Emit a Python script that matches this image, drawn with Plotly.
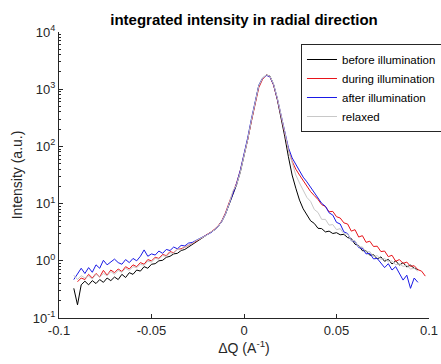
import plotly.graph_objects as go

# Delta Q sample positions (A^-1)
dq = [-0.092, -0.090, -0.088, -0.086, -0.084, -0.082, -0.080, -0.078, -0.076, -0.074,
      -0.072, -0.070, -0.068, -0.066, -0.064, -0.062, -0.060, -0.058, -0.056, -0.054,
      -0.052, -0.050, -0.048, -0.046, -0.044, -0.042, -0.040, -0.038, -0.036, -0.034,
      -0.032, -0.030, -0.028, -0.026, -0.024, -0.022, -0.020, -0.018, -0.016, -0.014,
      -0.012, -0.010, -0.008, -0.006, -0.004, -0.002, 0.000, 0.002, 0.004, 0.006,
      0.008, 0.010, 0.012, 0.014, 0.016, 0.018, 0.020, 0.022, 0.024, 0.026,
      0.028, 0.030, 0.032, 0.034, 0.036, 0.038, 0.040, 0.042, 0.044, 0.046,
      0.048, 0.050, 0.052, 0.054, 0.056, 0.058, 0.060, 0.062, 0.064, 0.066,
      0.068, 0.070, 0.072, 0.074, 0.076, 0.078, 0.080, 0.082, 0.084, 0.086,
      0.088, 0.090, 0.092, 0.094, 0.096, 0.098]

before = [0.33, 0.17, 0.38, 0.44, 0.38, 0.45, 0.40, 0.47, 0.42, 0.50,
          0.45, 0.52, 0.47, 0.58, 0.51, 0.62, 0.58, 0.69, 0.66, 0.79,
          0.74, 0.87, 0.89, 1.00, 1.02, 1.15, 1.20, 1.32, 1.35, 1.51,
          1.58, 1.74, 1.91, 2.14, 2.34, 2.57, 2.82, 3.09, 3.47, 3.98,
          4.9, 6.6, 10.0, 14.8, 21.4, 35.5, 66, 132, 282, 603,
          1150, 1550, 1780, 1700, 1200, 661, 331, 151, 66, 31.6,
          18.6, 11.5, 8.1, 6.5, 5.0, 4.5, 3.7, 3.65, 3.2, 3.3,
          3.0, 3.1, 2.85, 2.9, 2.55, 2.45, 1.95, 1.85, 1.50, 1.50,
          1.25, 1.28, 1.08, 1.17, 0.98, 1.06, 0.88, 1.00, 0.84, 0.93,
          0.78, 0.84, 0.74, 0.70, None, None]

during = [None, 0.43, 0.50, 0.47, 0.58, 0.50, 0.60, 0.52, 0.68, 0.56,
          0.69, 0.62, 0.72, 0.65, 0.79, 0.72, 0.85, 0.79, 0.93, 0.87,
          1.05, 1.00, 1.15, 1.10, 1.29, 1.23, 1.45, 1.38, 1.58, 1.62,
          1.74, 1.82, 2.00, 2.19, 2.40, 2.63, 2.82, 3.16, 3.55, 4.07,
          5.0, 6.9, 10.5, 15.5, 22.9, 38, 69, 132, 275, 562,
          1070, 1480, 1780, 1660, 1170, 676, 355, 174, 89, 55,
          40, 31.6, 25.1, 20, 16.2, 13.8, 11.8, 9.6, 8.9, 7.2,
          7.3, 5.9, 5.6, 4.6, 4.4, 3.3, 3.5, 2.6, 2.75, 2.1,
          2.2, 1.78, 1.80, 1.45, 1.48, 1.18, 1.25, 0.98, 1.05, 0.90,
          0.95, 0.80, 0.82, 0.70, 0.66, 0.54]

after = [0.47, 0.60, 0.74, 0.60, 0.76, 0.63, 0.85, 0.74, 1.02, 0.85,
         0.95, 1.07, 0.93, 0.87, 1.05, 0.93, 1.10, 1.00, 1.20, 1.55,
         1.20, 1.32, 1.26, 1.48, 1.35, 1.58, 1.51, 1.74, 1.62, 1.86,
         1.82, 2.04, 2.09, 2.29, 2.45, 2.63, 2.82, 3.09, 3.47, 3.98,
         4.9, 6.6, 10.0, 15.1, 22.4, 38, 71, 141, 302, 631,
         1170, 1550, 1740, 1660, 1200, 692, 363, 182, 95, 63,
         48, 36, 29, 24, 19.5, 15.8, 12.9, 10.1, 9.0, 6.9,
         6.3, 4.7, 4.4, 3.2, 3.0, 2.25, 2.2, 1.70, 1.66, 1.32,
         1.35, 1.08, 1.10, 0.93, 0.76, 0.89, 0.69, 0.79, 0.60, 0.46,
         0.56, 0.33, 0.50, 0.42, None, None]

relaxed = [0.56, 0.47, 0.55, 0.50, 0.54, 0.48, 0.58, 0.52, 0.60, 0.55,
           0.65, 0.58, 0.68, 0.63, 0.74, 0.68, 0.79, 0.76, 0.87, 0.83,
           0.98, 0.95, 1.10, 1.07, 1.23, 1.20, 1.38, 1.35, 1.58, 1.55,
           1.74, 1.86, 2.00, 2.24, 2.40, 2.57, 2.82, 3.16, 3.47, 3.98,
           4.9, 6.6, 10.0, 16.6, 21.4, 35.5, 66, 132, 288, 617,
           1150, 1550, 1780, 1700, 1230, 708, 372, 182, 87, 50,
           31.6, 22.9, 17.4, 12.8, 10.9, 7.9, 7.0, 5.3, 5.3, 4.2,
           4.3, 3.5, 3.65, 2.95, 2.95, 2.25, 2.25, 1.75, 1.75, 1.42,
           1.45, 1.19, 1.23, 1.06, 1.10, 0.96, 1.00, 0.85, 0.88, 0.80,
           0.83, 0.72, 0.74, 0.66, None, None]

series_names = ["before illumination", "during illumination", "after illumination", "relaxed"]
series_colors = ["#000000", "#e8141a", "#1a1ae6", "#c8c8c8"]
series_values = [before, during, after, relaxed]

y_tickvals = [0.1, 1, 10, 100, 1000, 10000]
y_ticktext = ["10<sup>-1</sup>", "10<sup>0</sup>", "10<sup>1</sup>", "10<sup>2</sup>",
              "10<sup>3</sup>", "10<sup>4</sup>"]
x_tickvals = [-0.1, -0.05, 0, 0.05, 0.1]
x_ticktext = ["-0.1", "-0.05", "0", "0.05", "0.1"]

fig = go.Figure()
for name, color, vals in zip(series_names, series_colors, series_values):
    fig.add_trace(go.Scatter(x=dq, y=vals, mode="lines", name=name,
                             line=dict(color=color, width=1)))

FONT = "Arial, Liberation Sans, sans-serif"
W, H = 441, 364
fig.update_layout(
    width=W, height=H,
    margin=dict(l=59, r=12, t=32, b=46, autoexpand=False),
    paper_bgcolor="white", plot_bgcolor="white",
    font=dict(family=FONT, size=13, color="#262626"),
    title=dict(text="<b>integrated intensity in radial direction</b>",
               x=0.5, xref="paper", xanchor="center", y=1 - 20 / H, yanchor="middle",
               font=dict(size=15, color="#000000", family=FONT)),
    showlegend=True,
    legend=dict(x=0.654, y=0.958, xanchor="left", yanchor="top",
                bgcolor="white", bordercolor="#262626", borderwidth=1,
                font=dict(size=11.5, color="#000000", family=FONT),
                tracegroupgap=0, itemwidth=30),
)
fig.update_xaxes(range=[-0.1, 0.1], tickvals=x_tickvals, ticktext=x_ticktext,
                 showline=True, linecolor="#262626", linewidth=1,
                 ticks="inside", ticklen=4, tickcolor="#262626",
                 showgrid=False, zeroline=False, mirror=False, automargin=False,
                 title=dict(text="ΔQ (A<sup>-1</sup>)", font=dict(size=14), standoff=6))
fig.update_yaxes(type="log", range=[-1, 4], tickvals=y_tickvals, ticktext=y_ticktext,
                 showline=True, linecolor="#262626", linewidth=1,
                 ticks="inside", ticklen=4, tickcolor="#262626",
                 showgrid=False, zeroline=False, mirror=False, automargin=False,
                 minor=dict(ticks="inside", ticklen=2, tickcolor="#262626", dtick="D1", showgrid=False),
                 title=dict(text="Intensity (a.u.)", font=dict(size=14), standoff=6))

fig.write_html("out.html", config={"displayModeBar": False},
               post_script="document.body.style.margin='0';document.body.style.overflow='hidden';")
